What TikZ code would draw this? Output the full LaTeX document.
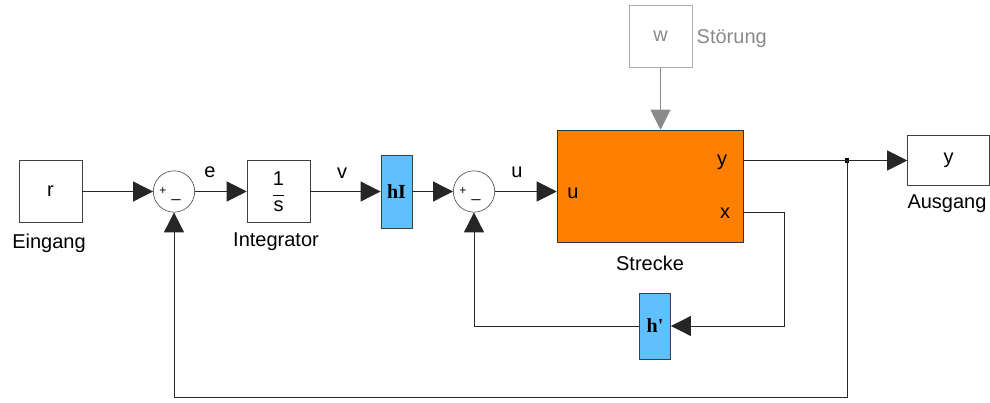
\documentclass[tikz,border=0pt]{standalone}
\usepackage{fontspec}
\setmainfont{Liberation Sans}
\newfontfamily\gainfont{Liberation Serif}
\usetikzlibrary{arrows.meta, positioning, calc}
\definecolor{streckeorange}{HTML}{FF8000}
\definecolor{gainblue}{HTML}{5FBFFF}
\definecolor{stoergray}{HTML}{8A8A8A}

\begin{document}
\begin{tikzpicture}[
    x=0.75pt, y=-0.75pt,
    font=\fontsize{15}{17}\selectfont,
    block/.style={draw=black!75, fill=white, minimum width=47.25pt, minimum height=46.5pt, inner sep=0pt},
    gain/.style={draw=black!75, fill=gainblue, minimum width=23.5pt, minimum height=#1, inner sep=0pt, font=\gainfont\bfseries\fontsize{15}{17}\selectfont},
    sumnode/.style={draw=black!80, fill=white, circle, minimum size=31pt, inner sep=0pt},
    arr/.style={-{Triangle[length=15pt, width=15pt]}, black!85, line width=0.75pt},
    >=Stealth
]
\useasboundingbox (0,0) rectangle (990,403);

% Blocks (left to right)
\node[block] (r) at (50.5, 191.5) {r};
\node[sumnode] (s1) at (174, 191.5) {};
\node[block] (integ) at (278.5, 191.5) {\shortstack{1\\[4pt]\rule{8pt}{0.6pt}\\[1pt]s}};
\node[gain=54.75pt] (hI) at (396.5, 191.5) {hI};
\node[sumnode] (s2) at (474, 191.5) {};
\node[draw=black!80, fill=streckeorange, minimum width=139.5pt, minimum height=84pt, inner sep=0pt] (strecke) at (650, 186) {};
\node[block, draw=stoergray!70, text=stoergray] (w) at (660.5, 36.5) {w};
\node[block, minimum width=61.5pt, minimum height=37.5pt] (ausgang) at (948.5, 160.5) {y};
\node[gain=49.5pt] (hp) at (655, 326) {h'};
\node[fill=black, minimum size=3.5pt, inner sep=0pt] (branch) at (847, 160.5) {};

% Ports of the plant
\coordinate (yout) at (743, 160.5);
\coordinate (xout) at (743, 212);
\coordinate (fbbottom) at (0, 397);

% Signs of the summing points
\foreach \s in {s1, s2} {
    \node[font=\fontsize{9}{9}\selectfont] at ($(\s)+(-11,0)$) {+};
    \node[font=\fontsize{12}{12}\selectfont] at ($(\s)+(2,8)$) {\_};
}

% Signal lines
\draw[arr] (r.east) -- (s1.west);
\draw[arr] (s1.east) -- (s1.east -| integ.west);
\draw[arr] (integ.east) -- (integ.east -| hI.west);
\draw[arr] (hI.east) -- (s2.west);
\draw[arr] (s2.east) -- (s2.east -| strecke.west);
\draw[arr, stoergray] (w.south) -- (w.south |- strecke.north);
\draw[arr] (yout) -- (yout -| ausgang.west);
\draw[arr] (xout) -- ++(41, 0) |- (hp.east);
\draw[arr] (hp.west) -| (s2.south);
\draw[arr] (branch.center) |- (fbbottom -| s1) -- (s1.south);

% Labels
\node at (210, 172) {e};
\node at (342, 173) {v};
\node at (517, 172) {u};
\node at (573, 193) {u};
\node at (722, 162) {y};
\node at (725, 213) {x};
\node at (49, 243) {Eingang};
\node at (276, 242) {Integrator};
\node at (650, 263) {Strecke};
\node at (947, 204) {Ausgang};
\node[text=stoergray, anchor=west] at (692, 39) {Störung};

\end{tikzpicture}
\end{document}
